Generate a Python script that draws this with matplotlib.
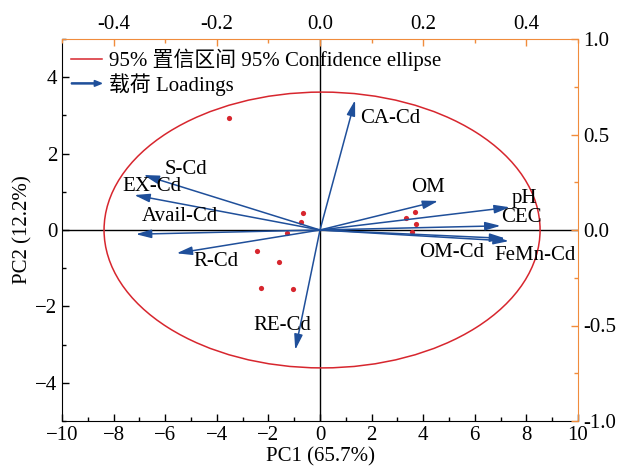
import matplotlib
matplotlib.use('Agg')
import matplotlib.pyplot as plt
import matplotlib.patches as mpatches
from matplotlib.legend_handler import HandlerPatch
from matplotlib.ticker import MultipleLocator

plt.rcParams['font.family'] = ['Liberation Serif', 'Noto Sans CJK SC']
plt.rcParams['font.size'] = 15
plt.rcParams['axes.unicode_minus'] = True

# PCA scores (PC1, PC2)
score_x = [-3.53, -0.65, -0.75, -1.27, -2.43, -1.60, -2.27, -1.03, 3.33, 3.67, 3.71, 3.57]
score_y = [2.92, 0.45, 0.20, -0.09, -0.55, -0.84, -1.51, -1.54, 0.32, 0.46, 0.17, -0.06]

# 95% confidence ellipse (center, full width/height in score units)
ell_center = (0.08, 0.0)
ell_width = 16.9
ell_height = 7.22

# loadings
var_names = ['CA-Cd', 'OM', 'pH', 'CEC', 'OM-Cd', 'FeMn-Cd',
             'S-Cd', 'EX-Cd', 'Avail-Cd', 'R-Cd', 'RE-Cd']
load_x = [0.068, 0.229, 0.368, 0.350, 0.359, 0.366,
          -0.342, -0.360, -0.357, -0.278, -0.048]
load_y = [0.680, 0.152, 0.119, 0.022, -0.044, -0.058,
          0.288, 0.183, -0.022, -0.122, -0.628]

# label positions (loading axes coords)
label_pos = {
    'CA-Cd': (0.136, 0.586), 'OM': (0.209, 0.225), 'pH': (0.397, 0.167),
    'CEC': (0.391, 0.068), 'OM-Cd': (0.256, -0.120), 'FeMn-Cd': (0.417, -0.135),
    'S-Cd': (-0.260, 0.318), 'EX-Cd': (-0.326, 0.229), 'Avail-Cd': (-0.271, 0.073),
    'R-Cd': (-0.202, -0.167), 'RE-Cd': (-0.074, -0.500),
}

red = '#D7262E'
blue = '#1F4F9A'
orange = '#F08C3C'

fig = plt.figure(figsize=(6.26, 4.71), dpi=100)
ax = fig.add_axes([62 / 626, 1 - 421 / 471, 516 / 626, 382 / 471])

ax.set_xlim(-10, 10)
ax.set_ylim(-5, 5)
ax.axhline(0, color='black', lw=1.0, zorder=1)
ax.axvline(0, color='black', lw=1.0, zorder=1)
ax.add_patch(mpatches.Ellipse(ell_center, ell_width, ell_height, fill=False,
                              edgecolor=red, lw=1.1, zorder=2))
ax.scatter(score_x, score_y, s=14, color=red, zorder=3, linewidths=0)

ax.xaxis.set_major_locator(MultipleLocator(2))
ax.xaxis.set_minor_locator(MultipleLocator(1))
ax.yaxis.set_major_locator(MultipleLocator(2))
ax.yaxis.set_minor_locator(MultipleLocator(1))
ax.tick_params(which='both', direction='in', width=1, top=False, right=False)
ax.tick_params(which='major', length=5)
ax.tick_params(which='minor', length=3)
ax.spines['top'].set_visible(False)
ax.spines['right'].set_visible(False)
ax.set_xlabel('PC1 (65.7%)', labelpad=2)
ax.set_ylabel('PC2 (12.2%)', labelpad=2)

# loadings axes (top / right)
ax2 = fig.add_axes(ax.get_position())
ax2.patch.set_visible(False)
ax2.set_xlim(-0.5, 0.5)
ax2.set_ylim(-1, 1)
ax2.xaxis.tick_top()
ax2.yaxis.tick_right()
ax2.spines['left'].set_visible(False)
ax2.spines['bottom'].set_visible(False)
ax2.spines['top'].set_color(orange)
ax2.spines['right'].set_color(orange)
ax2.xaxis.set_major_locator(MultipleLocator(0.2))
ax2.xaxis.set_minor_locator(MultipleLocator(0.1))
ax2.yaxis.set_major_locator(MultipleLocator(0.5))
ax2.yaxis.set_minor_locator(MultipleLocator(0.25))
ax2.tick_params(which='both', direction='in', width=1, color=orange,
                top=True, right=True, bottom=False, left=False,
                labeltop=True, labelright=True, labelbottom=False, labelleft=False)
ax2.tick_params(which='major', length=5)
ax2.tick_params(which='minor', length=3)
ax2.xaxis.set_major_formatter(matplotlib.ticker.FormatStrFormatter('%.1f'))
ax2.yaxis.set_major_formatter(matplotlib.ticker.FormatStrFormatter('%.1f'))

for name, lx, ly in zip(var_names, load_x, load_y):
    ax2.annotate('', xy=(lx, ly), xytext=(0, 0),
                 arrowprops=dict(arrowstyle='-|>,head_length=0.62,head_width=0.17',
                                 color=blue, lw=1.1, shrinkA=0, shrinkB=0,
                                 mutation_scale=15))
    tx, ty = label_pos[name]
    ax2.text(tx, ty, name, ha='center', va='center', fontsize=15)


def make_arrow(legend, orig_handle, xdescent, ydescent, width, height, fontsize):
    return mpatches.FancyArrow(0, height / 2, width, 0, width=0.8,
                               length_includes_head=True, head_width=0.4 * height,
                               head_length=0.5 * height, color=blue)


ell_handle = plt.Line2D([], [], color=red, lw=1.1)
arrow_handle = mpatches.FancyArrow(0, 0, 1, 0, color=blue)
ax2.legend([ell_handle, arrow_handle],
           ['95% 置信区间 95% Confidence ellipse', '载荷 Loadings'],
           handler_map={arrow_handle: HandlerPatch(patch_func=make_arrow)},
           loc='upper left', bbox_to_anchor=(0, 1), borderaxespad=0,
           borderpad=0.45, frameon=False, handlelength=1.45,
           handletextpad=0.35, labelspacing=0.1, fontsize=15)

fig.savefig('out.png', dpi=100)
